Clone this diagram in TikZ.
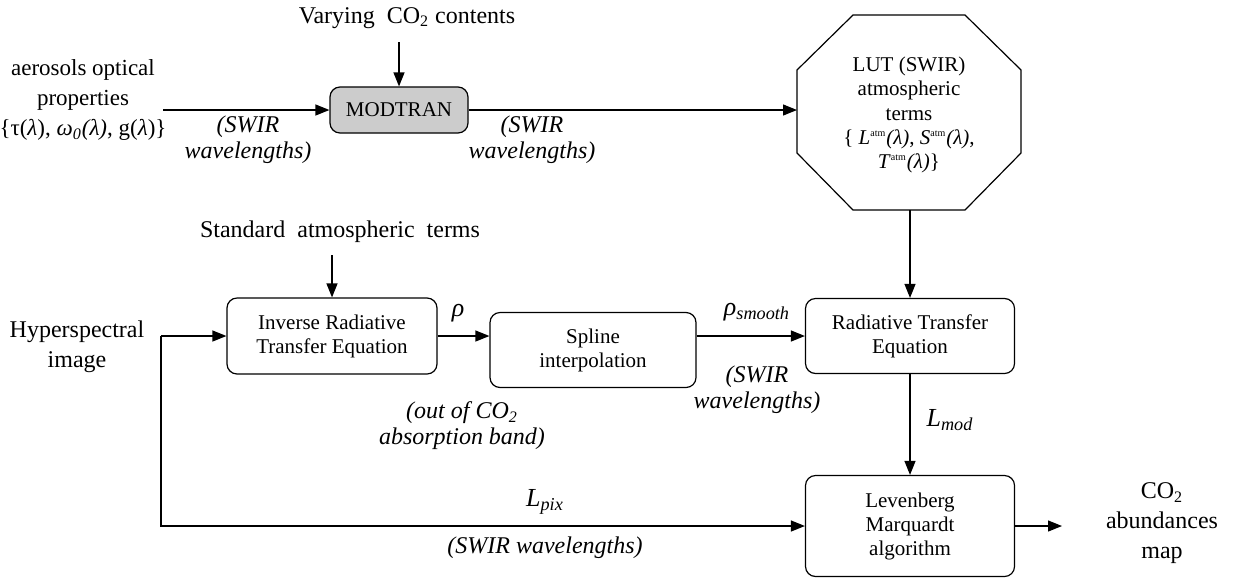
\documentclass[tikz,border=0pt]{standalone}
\usepackage{fontspec}
\setmainfont{Liberation Serif}
\usetikzlibrary{arrows.meta}

\tikzset{
  arr/.style={-{Triangle[length=7pt,width=5.5pt]}, line width=0.6pt},
  box/.style={draw, rounded corners=5pt, line width=0.6pt, align=center,
    inner sep=0pt, font=\fontsize{10.5}{12}\selectfont},
  outer/.style={align=center, font=\fontsize{12}{15}\selectfont},
  note/.style={align=center, font=\fontsize{12}{13}\selectfont\itshape},
  sym/.style={font=\fontsize{13}{14}\selectfont\itshape},
}
\newcommand{\atm}{\textsuperscript{\fontsize{5}{5}\selectfont\upshape atm}}

\begin{document}
\begin{tikzpicture}[x=0.5pt, y=-0.5pt]
\useasboundingbox (0,0) rectangle (1234,579);
% Kaesten:
\node[box, fill=gray!40, minimum width=69pt, minimum height=23pt] (modtran) at (399,110) {MODTRAN};
\node[box, minimum width=105pt, minimum height=38pt] (irte) at (332,336) {Inverse Radiative\\Transfer Equation};
\node[box, minimum width=103pt, minimum height=37.5pt] (spline) at (593,350) {Spline\\interpolation};
\node[box, minimum width=104.5pt, minimum height=37.5pt] (rte) at (910,336) {Radiative Transfer\\Equation};
\node[box, minimum width=104.5pt, minimum height=50.5pt] (lm) at (910,526) {Levenberg\\Marquardt\\algorithm};
% Achteck der LUT:
\draw[line width=0.6pt] (853,15) -- (965,15) -- (1021,70) -- (1021,153) -- (965,210)
  -- (853,210) -- (797,153) -- (797,70) -- cycle;
\coordinate (lutw) at (797,110);
\coordinate (luts) at (910,210);
\node[align=center, font=\fontsize{10.5}{12.2}\selectfont] (lut) at (909,115)
  {LUT (SWIR)\\atmospheric\\terms\\
   \{ \textit{L}\atm\textit{(λ)}, \textit{S}\atm\textit{(λ)},\\
   \textit{T}\atm\textit{(λ)}\}};
% Texte ausserhalb:
\node[outer] (varying) at (407,18) {Varying\ \ CO\textsubscript{2} contents};
\node[outer, font=\fontsize{11.5}{15}\selectfont] (aerosols) at (83,100) {aerosols optical\\properties\\
  \{τ(\textit{λ}), \textit{ω\textsubscript{0}(λ)}, g(\textit{λ})\}};
\node[outer] (std) at (340,232) {Standard\ \ atmospheric\ \ terms};
\node[outer] (hyper) at (77,347) {Hyperspectral\\image};
\node[outer] (co2map) at (1162,523) {CO\textsubscript{2}\\abundances\\map};
% Beschriftungen:
\node[note] (swira) at (248,140) {(SWIR\\wavelengths)};
\node[note] (swirb) at (532,140) {(SWIR\\wavelengths)};
\node[note] (swirc) at (757,390) {(SWIR\\wavelengths)};
\node[note] (swird) at (545,548) {(SWIR wavelengths)};
\node[note] (outof) at (462,426) {(out of CO\textsubscript{2}\\absorption band)};
\node[sym] (rho) at (458,313) {ρ};
\node[sym] (rhosm) at (757,312) {ρ\textsubscript{smooth}};
\node[sym] (lmod) at (950,420) {L\textsubscript{mod}};
\node[sym] (lpix) at (545,502) {L\textsubscript{pix}};
% Pfeile:
\coordinate (tap) at (161,336);
\coordinate (mapin) at (1062,526);
\draw[arr] (modtran.north |- 0,42) -- (modtran.north);
\draw[arr] (163,110) -- (modtran.west);
\draw[arr] (modtran.east) -- (lutw);
\draw[arr] (luts) -- (rte.north);
\draw[arr] (irte.north |- 0,255) -- (irte.north);
\draw[arr] (tap) -- (irte.west);
\draw[arr] (tap) |- (lm.west);
\draw[arr] (irte.east) -- (irte.east -| spline.west);
\draw[arr] (spline.east |- rte.west) -- (rte.west);
\draw[arr] (rte.south) -- (lm.north);
\draw[arr] (lm.east) -- (mapin);
\end{tikzpicture}
\end{document}
